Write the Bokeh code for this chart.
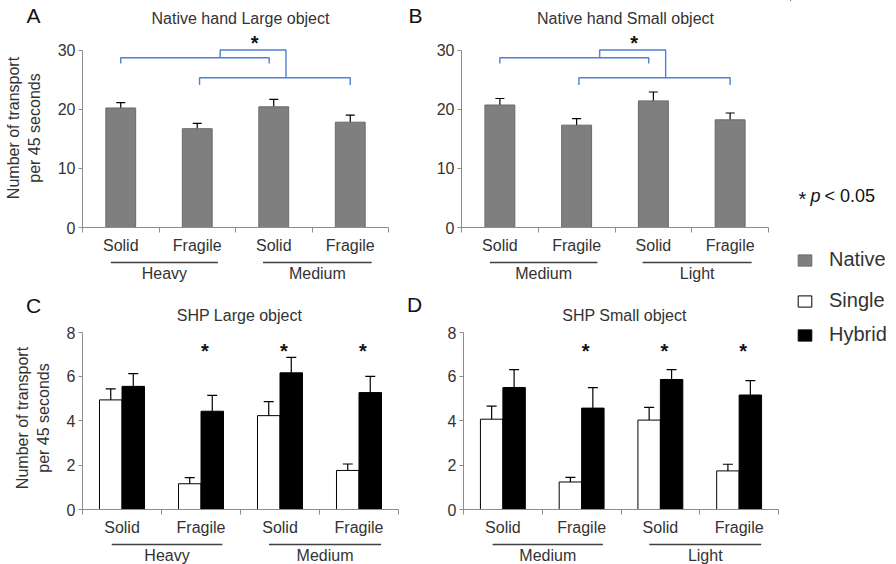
import numpy as np
from bokeh.plotting import figure
from bokeh.layouts import column, row
from bokeh.models import (Range1d, FixedTicker, Whisker, TeeHead, ColumnDataSource,
                          Legend, LegendItem, CustomJSTickFormatter)
from bokeh.core.properties import value
from bokeh.embed import file_html
from bokeh.resources import INLINE

# ---- data -------------------------------------------------------------
conditions = ["Solid", "Fragile", "Solid", "Fragile"]
groups_large = ["Heavy", "Medium"]
groups_small = ["Medium", "Light"]

native_large = [20.2, 16.7, 20.4, 17.8]
native_large_err = [0.9, 0.9, 1.25, 1.2]
native_small = [20.7, 17.3, 21.4, 18.2]
native_small_err = [1.1, 1.1, 1.5, 1.15]

shp_large_single = [4.94, 1.16, 4.23, 1.76]
shp_large_single_err = [0.50, 0.28, 0.63, 0.29]
shp_large_hybrid = [5.55, 4.43, 6.16, 5.27]
shp_large_hybrid_err = [0.57, 0.71, 0.70, 0.73]

shp_small_single = [4.07, 1.24, 4.03, 1.74]
shp_small_single_err = [0.59, 0.21, 0.57, 0.30]
shp_small_hybrid = [5.50, 4.57, 5.86, 5.16]
shp_small_hybrid_err = [0.80, 0.92, 0.44, 0.65]

# conditions where Single and Hybrid differ (p < 0.05)
shp_large_sig = [1, 2, 3]
shp_small_sig = [1, 2, 3]

# ---- style ------------------------------------------------------------
FONT = "Liberation Sans"
TXT = "#333333"
DARK = "#111111"
AXC = "#8c8c8c"
GRAY = "#7f7f7f"
BLUE = "#4f81cf"
AXIS_PX = 177.5        # px from 0 to the top tick on every panel
centers = np.arange(len(conditions)) + 0.5


def no_align(p):
    # keep each figure's own borders instead of lining frames up across the column
    try:
        p.frame_align = False
    except AttributeError:
        pass


def blank(width, height, x_range=None, left=0, right=0, align=False):
    """Figure without axes; its frame is the whole canvas unless borders are given."""
    p = figure(width=width, height=height,
               x_range=x_range if x_range is not None else Range1d(0, width),
               y_range=Range1d(height, 0), min_border_left=left, min_border_right=right,
               min_border_top=0, min_border_bottom=0, x_axis_location=None,
               y_axis_location=None, output_backend="svg", toolbar_location=None, title=None)
    p.outline_line_color = None
    p.grid.visible = False
    p.background_fill_color = "white"
    p.border_fill_color = "white"
    if not align:
        no_align(p)
    return p


def header(width, height, letter, letter_xy, title, title_xy):
    h = blank(width, height)
    h.text(x=[letter_xy[0]], y=[letter_xy[1]], text=[letter], text_font=value(FONT),
           text_font_size="21px", text_color=DARK, text_align="center", text_baseline="middle")
    h.text(x=[title_xy[0]], y=[title_xy[1]], text=[title], text_font=value(FONT),
           text_font_size="16px", text_color=TXT, text_align="center", text_baseline="middle")
    return h


def footer(panel, width, left, right, groups):
    f = blank(width, 25, x_range=panel.x_range, left=left, right=right)
    x0 = [0.37, 2.36]
    x1 = [1.77, 3.78]
    f.segment(x0=x0, y0=[5, 5], x1=x1, y1=[5, 5], line_color="#404040", line_width=1.3)
    f.text(x=[(a + b) / 2 for a, b in zip(x0, x1)], y=[15.5, 15.5], text=groups,
           text_font=value(FONT), text_font_size="16px", text_color=TXT,
           text_align="center", text_baseline="middle")
    return f


def make_panel(width, frame_h, left, right, ymax, ystep, ylabel=None):
    y_end = ymax * frame_h / AXIS_PX
    p = figure(width=width, height=frame_h + 30, x_range=Range1d(0, 4), y_range=Range1d(0, y_end),
               min_border_left=left, min_border_right=right, min_border_top=0,
               min_border_bottom=30, output_backend="svg", toolbar_location=None, title=None)
    p.outline_line_color = None
    p.xgrid.visible = False
    p.ygrid.visible = False
    p.background_fill_color = "white"
    p.border_fill_color = "white"
    no_align(p)

    yax = p.yaxis[0]
    yax.bounds = (0, ymax)
    yax.ticker = FixedTicker(ticks=list(range(0, ymax + 1, ystep)))
    yax.axis_line_color = AXC
    yax.major_tick_line_color = AXC
    yax.major_tick_out = 4
    yax.major_tick_in = 0
    yax.minor_tick_line_color = None
    yax.major_label_text_font = FONT
    yax.major_label_text_font_size = "16px"
    yax.major_label_text_color = TXT
    yax.major_label_standoff = 3
    if ylabel:
        yax.axis_label = ylabel
        yax.axis_label_text_font = FONT
        yax.axis_label_text_font_size = "16px"
        yax.axis_label_text_font_style = "normal"
        yax.axis_label_text_color = TXT
        yax.axis_label_standoff = 12

    xax = p.xaxis[0]
    xax.ticker = FixedTicker(ticks=list(centers), minor_ticks=list(range(len(conditions) + 1)))
    xax.formatter = CustomJSTickFormatter(args=dict(names=conditions),
                                          code="return names[Math.floor(tick)] || ''")
    xax.axis_line_color = AXC
    xax.major_tick_line_color = None
    xax.major_tick_out = 0
    xax.major_tick_in = 0
    xax.minor_tick_line_color = AXC
    xax.minor_tick_out = 5
    xax.minor_tick_in = 0
    xax.major_label_text_font = FONT
    xax.major_label_text_font_size = "16px"
    xax.major_label_text_color = TXT
    xax.major_label_standoff = 4
    return p


def add_error(p, x, vals, err, cap):
    vals = np.asarray(vals)
    err = np.asarray(err)
    src = ColumnDataSource(dict(x=x, upper=vals + err, lower=vals - err))
    p.add_layout(Whisker(source=src, base="x", upper="upper", lower="lower",
                         line_color="black", line_width=1.2,
                         upper_head=TeeHead(size=cap, line_color="black", line_width=1.2),
                         lower_head=TeeHead(size=cap, line_color="black", line_width=1.2)))


def native_panel(width, left, right, vals, err, ylabel):
    p = make_panel(width, 199, left, right, 30, 10, ylabel)
    p.vbar(x=centers, top=vals, width=0.39, fill_color=GRAY, line_color="#6a6a6a", line_width=1)
    add_error(p, centers, vals, err, 9)
    # comparison brackets: Solid vs Solid and Fragile vs Fragile across weights
    xs = [[0.5, 0.5, 2.44, 2.44], [1.53, 1.53, 3.5, 3.5], [1.8, 1.8, 2.66, 2.66]]
    ys = [[27.7, 28.7, 28.7, 27.7], [24.1, 25.3, 25.3, 24.1], [28.7, 30.0, 30.0, 25.3]]
    p.multi_line(xs=xs, ys=ys, line_color=BLUE, line_width=1.4)
    p.text(x=[2.25], y=[31.9], text=["*"], text_font=value(FONT), text_font_size="20px",
           text_font_style="bold", text_align="center", text_baseline="middle",
           text_color=DARK, y_offset=4)
    return p


def shp_panel(width, left, right, single, single_err, hybrid, hybrid_err, sig, ylabel):
    p = make_panel(width, 183, left, right, 8, 2, ylabel)
    w = 0.285
    xs_single = centers - w / 2
    xs_hybrid = centers + w / 2
    p.vbar(x=xs_single, top=single, width=w, fill_color="white", line_color="black", line_width=1)
    p.vbar(x=xs_hybrid, top=hybrid, width=w, fill_color="black", line_color="black", line_width=1)
    add_error(p, xs_single, single, single_err, 10)
    add_error(p, xs_hybrid, hybrid, hybrid_err, 10)
    p.text(x=[centers[i] + 0.05 for i in sig], y=[7.3] * len(sig), text=["*"] * len(sig),
           text_font=value(FONT), text_font_size="20px", text_font_style="bold",
           text_align="center", text_baseline="middle", text_color=DARK, y_offset=3)
    return p


YLABEL = "Number of transport\nper 45 seconds"

# left column: A and C
pA = native_panel(400, 82, 12, native_large, native_large_err, YLABEL)
hA = header(400, 28, "A", (33, 15), "Native hand Large object", (240, 18))
fA = footer(pA, 400, 82, 12, groups_large)

pC = shp_panel(400, 82, 2, shp_large_single, shp_large_single_err,
               shp_large_hybrid, shp_large_hybrid_err, shp_large_sig, YLABEL)
hC = header(400, 44, "C", (33, 23), "SHP Large object", (239, 33))
fC = footer(pC, 400, 82, 2, groups_large)

# right column: B and D
pB = native_panel(390, 61, 22, native_small, native_small_err, None)
hB = header(390, 28, "B", (15, 15), "Native hand Small object", (225, 18))
fB = footer(pB, 390, 61, 22, groups_small)

pD = shp_panel(390, 63, 12, shp_small_single, shp_small_single_err,
               shp_small_hybrid, shp_small_hybrid_err, shp_small_sig, None)
hD = header(390, 44, "D", (14, 22), "SHP Small object", (224, 33))
fD = footer(pD, 390, 63, 12, groups_small)

# legend strip; the swatch renderers hold one bar parked well outside the visible range
lg = blank(106, 564, align=True)
park = dict(x=[-500], top=[-500], bottom=[-501], width=1)
rN = lg.vbar(**park, fill_color=GRAY, line_color="#6a6a6a")
rS = lg.vbar(**park, fill_color="white", line_color="black")
rH = lg.vbar(**park, fill_color="black", line_color="black")
lg.text(x=[8], y=[195], text=["*"], text_font=value(FONT), text_font_size="20px",
        text_color=DARK, text_align="left", text_baseline="middle", y_offset=3)
lg.text(x=[20], y=[195], text=["p"], text_font=value(FONT), text_font_size="18px",
        text_font_style="italic", text_color=DARK, text_align="left", text_baseline="middle")
lg.text(x=[34], y=[195], text=["< 0.05"], text_font=value(FONT), text_font_size="18px",
        text_color=DARK, text_align="left", text_baseline="middle")


def legend(items, loc, spacing):
    return Legend(items=items, location=loc, orientation="vertical",
                  border_line_color=None, background_fill_alpha=0, padding=0, margin=0,
                  glyph_width=17, glyph_height=14, label_standoff=16, spacing=spacing,
                  label_text_font=FONT, label_text_font_size="20px", label_text_color=TXT)


lg.add_layout(legend([LegendItem(label="Native", renderers=[rN])], (6, 293), 0))
lg.add_layout(legend([LegendItem(label="Single", renderers=[rS]),
                      LegendItem(label="Hybrid", renderers=[rH])], (6, 218), 11))

layout = row(column(hA, pA, fA, hC, pC, fC), column(hB, pB, fB, hD, pD, fD), lg)

open("out.html", "w").write(file_html(layout, INLINE))
